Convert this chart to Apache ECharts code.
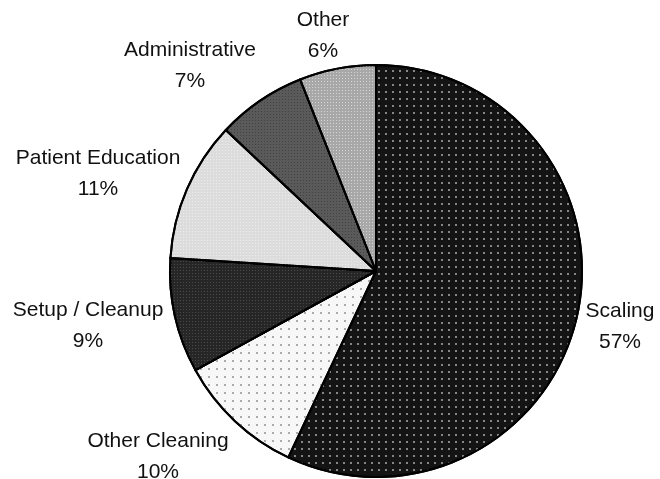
<!DOCTYPE html>
<html>
<head>
<meta charset="utf-8">
<script src="https://cdn.jsdelivr.net/npm/echarts@6/dist/echarts.min.js"></script>
<style>
html,body{margin:0;padding:0;background:#fff;}
#chart{width:660px;height:479px;}
</style>
</head>
<body>
<div id="chart"></div>
<script>
// Data (clockwise from 12 o'clock)
const categories = ['Scaling', 'Other Cleaning', 'Setup / Cleanup', 'Patient Education', 'Administrative', 'Other'];
const percentages = [57, 10, 9, 11, 7, 6];

// Styles
const fills = ['#141414', '#f7f7f7', '#262626', '#dcdcdc', '#5a5a5a', '#a8a8a8'];
const decals = [
  {symbol: 'circle', symbolSize: 1, dashArrayX: [[2, 5]], dashArrayY: [2, 5], color: 'rgba(200,200,200,0.85)'},
  {symbol: 'circle', symbolSize: 1, dashArrayX: [[2, 6]], dashArrayY: [2, 6], color: 'rgba(120,120,120,0.8)'},
  {symbol: 'rect', symbolSize: 1, dashArrayX: [[1, 2]], dashArrayY: [1, 2], color: 'rgba(90,90,90,0.7)'},
  {symbol: 'rect', symbolSize: 1, dashArrayX: [[1, 2]], dashArrayY: [1, 2], color: 'rgba(255,255,255,0.45)'},
  {symbol: 'rect', symbolSize: 1, dashArrayX: [[1, 2]], dashArrayY: [1, 2], color: 'rgba(40,40,40,0.5)'},
  {symbol: 'rect', symbolSize: 1, dashArrayX: [[1, 2]], dashArrayY: [1, 2], color: 'rgba(255,255,255,0.5)'}
];
const labelPos = [[620, 327], [158, 457], [88, 326], [98, 174], [190, 66], [323, 36]];

const chart = echarts.init(document.getElementById('chart'), null, {renderer: 'canvas'});
chart.setOption({
  animation: false,
  backgroundColor: '#fff',
  series: [{
    type: 'pie',
    center: [376, 271],
    radius: [0, 206],
    startAngle: 90,
    clockwise: true,
    avoidLabelOverlap: false,
    itemStyle: {borderColor: '#000', borderWidth: 2},
    label: {
      show: true,
      position: 'outside',
      formatter: p => p.name + '\n' + percentages[p.dataIndex] + '%',
      fontFamily: 'Liberation Sans, Arial, sans-serif',
      fontSize: 21,
      lineHeight: 31,
      color: '#111',
      align: 'center'
    },
    labelLine: {show: false},
    labelLayout: params => ({
      x: labelPos[params.dataIndex][0],
      y: labelPos[params.dataIndex][1],
      align: 'center',
      verticalAlign: 'middle'
    }),
    emphasis: {disabled: true},
    data: categories.map((c, i) => ({
      name: c,
      value: percentages[i],
      itemStyle: {color: fills[i], decal: decals[i]}
    }))
  }]
});
</script>
</body>
</html>
